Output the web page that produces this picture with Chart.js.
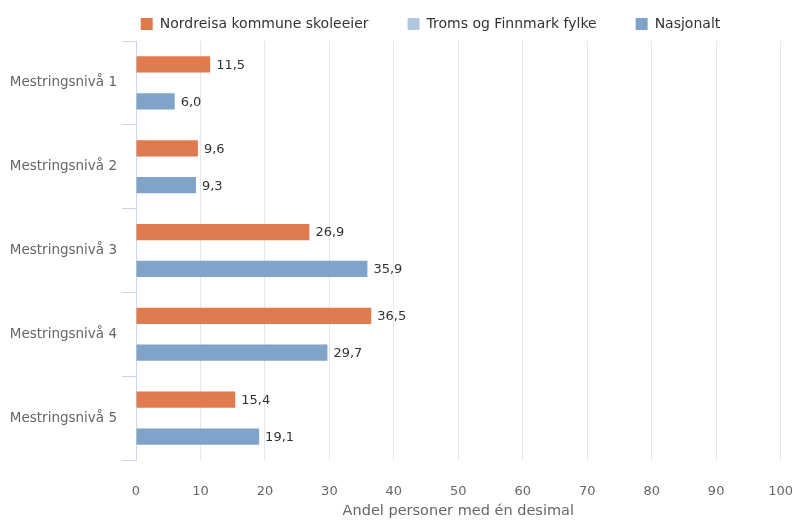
<!DOCTYPE html>
<html>
<head>
    <meta charset="utf-8">
    <title>Mestringsnivå</title>
    <script src="https://cdn.jsdelivr.net/npm/chart.js"></script>
    <style>
        body { margin: 0; background: #fff; }
        #wrap { width: 794px; height: 520px; position: relative; }
    </style>
</head>
<body>
    <div id="wrap"><canvas id="chart"></canvas></div>
    <script>
        // data
        const categories = ['Mestringsnivå 1', 'Mestringsnivå 2', 'Mestringsnivå 3', 'Mestringsnivå 4', 'Mestringsnivå 5'];
        const seriesNames = ['Nordreisa kommune skoleeier', 'Troms og Finnmark fylke', 'Nasjonalt'];
        const nordreisa = [11.5, 9.6, 26.9, 36.5, 15.4];
        const fylke = [null, null, null, null, null];
        const nasjonalt = [6.0, 9.3, 35.9, 29.7, 19.1];
        const xTicks = [0, 10, 20, 30, 40, 50, 60, 70, 80, 90, 100];

        const colors = ['#e07b4f', '#b1c9e0', '#7fa3c9'];

        // verdier ved enden av stolpene
        const valueLabels = {
            id: 'valueLabels',
            afterDatasetsDraw(chart) {
                const ctx = chart.ctx;
                ctx.save();
                ctx.font = '13px "DejaVu Sans"';
                ctx.fillStyle = '#333';
                ctx.textBaseline = 'middle';
                chart.data.datasets.forEach((ds, i) => {
                    const meta = chart.getDatasetMeta(i);
                    meta.data.forEach((bar, j) => {
                        const v = ds.data[j];
                        if (v === null || v === undefined) return;
                        ctx.fillText(v.toFixed(1).replace('.', ','), bar.x + 6, bar.y + 1);
                    });
                });
                ctx.restore();
            }
        };

        // flytt legenden litt opp og til høyre
        const moveLegend = {
            id: 'moveLegend',
            afterLayout(chart) {
                const lg = chart.legend;
                lg.top -= 23;
                lg.left += 36; lg.right += 36;
            }
        };

        const ctx = document.getElementById('chart').getContext('2d');
        const chart = new Chart(ctx, {
            type: 'bar',
            data: {
                labels: categories,
                datasets: [
                    { label: seriesNames[0], data: nordreisa, backgroundColor: colors[0] },
                    { label: seriesNames[1], data: fylke, backgroundColor: colors[1] },
                    { label: seriesNames[2], data: nasjonalt, backgroundColor: colors[2] }
                ]
            },
            options: {
                indexAxis: 'y',
                responsive: true,
                maintainAspectRatio: false,
                animation: false,
                categoryPercentage: 0.66,
                barPercentage: 0.88,
                layout: { padding: { left: 8, right: 13, top: 1, bottom: 0 } },
                plugins: {
                    legend: {
                        position: 'top',
                        maxHeight: 40,
                        labels: {
                            boxWidth: 12,
                            boxHeight: 12,
                            padding: 39,
                            color: '#333',
                            font: { family: 'DejaVu Sans', size: 14 }
                        }
                    },
                    tooltip: { enabled: false }
                },
                scales: {
                    x: {
                        min: 0,
                        max: 100,
                        afterBuildTicks(axis) {
                            axis.ticks = xTicks.map(v => ({ value: v }));
                        },
                        grid: { color: '#e6e6e6', drawTicks: true, tickLength: 23, tickColor: 'rgba(0,0,0,0)' },
                        border: { display: false },
                        ticks: {
                            color: '#666',
                            padding: 1,
                            font: { family: 'DejaVu Sans', size: 13 }
                        },
                        title: {
                            display: true,
                            text: 'Andel personer med én desimal',
                            color: '#666',
                            font: { family: 'DejaVu Sans', size: 14.5 },
                            padding: { top: 2, bottom: 0 }
                        }
                    },
                    y: {
                        afterFit(scale) { scale.width = 128; },
                        grid: {
                            offset: true,
                            drawOnChartArea: false,
                            drawTicks: true,
                            tickLength: 14,
                            color: '#ccd6eb'
                        },
                        border: { display: true, color: '#ccd6eb' },
                        ticks: {
                            color: '#666',
                            padding: 5,
                            font: { family: 'DejaVu Sans', size: 13.5 }
                        }
                    }
                }
            },
            plugins: [valueLabels, moveLegend]
        });
    </script>
</body>
</html>
